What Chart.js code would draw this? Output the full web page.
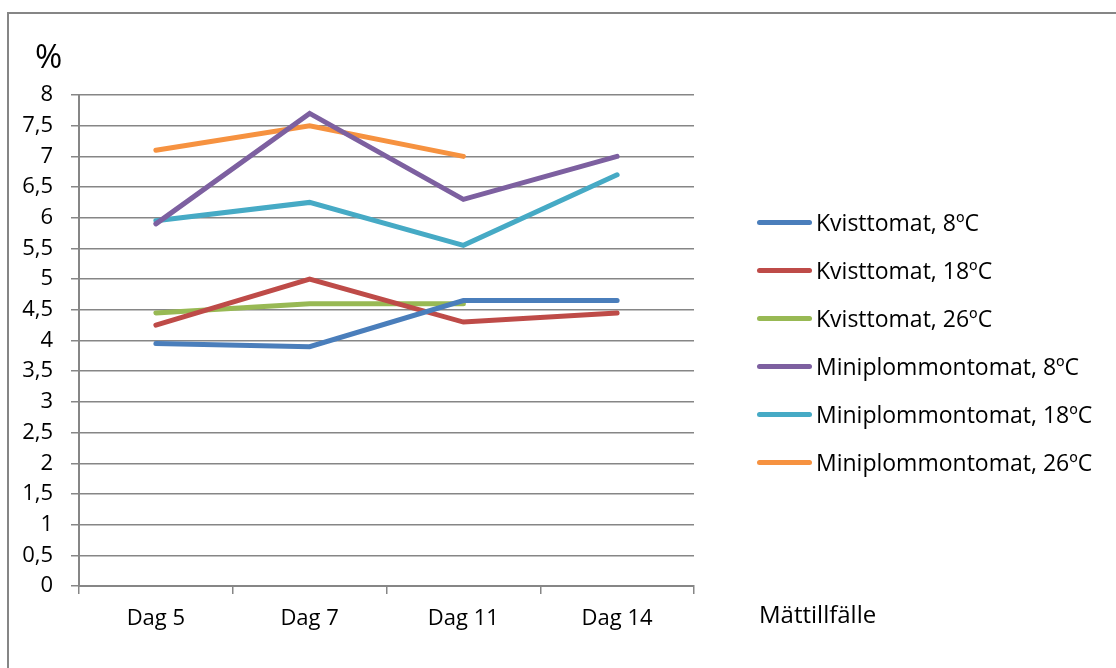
<!DOCTYPE html>
<html>
<head>
<meta charset="utf-8">
<script src="https://cdn.jsdelivr.net/npm/chart.js@4/dist/chart.umd.min.js"></script>
<style>
    body { margin: 0; background: #fff; font-family: 'Open Sans', sans-serif; }
    #wrap { position: relative; width: 1116px; height: 668px; overflow: hidden; }
    #frame { position: absolute; left: 7px; top: 12px; width: 1200px; height: 800px;
             border-left: 2px solid #868686; border-top: 2px solid #868686; }
    #chart { position: absolute; left: 0; top: 0; }
    #unit { position: absolute; left: 35px; top: 34px; font-size: 33px; line-height: 44px; color: #000; }
    #xtitle { position: absolute; left: 759px; top: 598px; font-size: 24px; line-height: 32px; color: #000; }
    #legend { position: absolute; left: 757px; top: 198px; }
    .item { height: 48px; display: flex; align-items: center; font-size: 23px; line-height: 30px; color: #000; white-space: nowrap; }
    .item span.sw { display: inline-block; width: 55px; height: 5px; border-radius: 3px; margin-right: 4px; }
</style>
</head>
<body>
<div id="wrap">
    <canvas id="chart" width="1116" height="668"></canvas>
    <div id="frame"></div>
    <div id="unit">%</div>
    <div id="xtitle">Mättillfälle</div>
    <div id="legend"></div>
</div>
<script>
// Mätdata
const dagar = ['Dag 5', 'Dag 7', 'Dag 11', 'Dag 14'];
const kvist8 = [3.95, 3.9, 4.65, 4.65];
const kvist18 = [4.25, 5.0, 4.3, 4.45];
const kvist26 = [4.45, 4.6, 4.6, null];
const mini8 = [5.9, 7.7, 6.3, 7.0];
const mini18 = [5.95, 6.25, 5.55, 6.7];
const mini26 = [7.1, 7.5, 7.0, null];
const serier = ['Kvisttomat, 8ºC', 'Kvisttomat, 18ºC', 'Kvisttomat, 26ºC',
                'Miniplommontomat, 8ºC', 'Miniplommontomat, 18ºC', 'Miniplommontomat, 26ºC'];
const farger = ['#4A7EBB', '#BE4B48', '#98B954', '#7D60A0', '#46AAC5', '#F69240'];

const values = [kvist8, kvist18, kvist26, mini8, mini18, mini26];
const datasets = values.map((v, i) => ({
    label: serier[i],
    data: v,
    borderColor: farger[i],
    backgroundColor: farger[i],
    borderWidth: 5,
    pointRadius: 0,
    tension: 0,
    borderCapStyle: 'round',
    borderJoinStyle: 'miter',
    spanGaps: false
}));

const ctx = document.getElementById('chart').getContext('2d');
new Chart(ctx, {
    type: 'line',
    data: { labels: dagar, datasets: datasets },
    options: {
        responsive: false,
        animation: false,
        layout: { padding: { top: 95, right: 422, bottom: 0, left: 0 } },
        plugins: { legend: { display: false }, tooltip: { enabled: false } },
        scales: {
            x: {
                offset: true,
                grid: { offset: true, drawOnChartArea: false, drawTicks: true, tickLength: 8, color: '#868686', lineWidth: 1.5 },
                border: { color: '#868686', width: 2 },
                ticks: { color: '#000', font: { family: 'Open Sans', size: 22 }, padding: 12 },
                afterFit: function(scale) { scale.height = 82; }
            },
            y: {
                min: 0,
                max: 8,
                ticks: {
                    stepSize: 0.5,
                    color: '#000',
                    font: { family: 'Open Sans', size: 22 },
                    padding: 18,
                    callback: function(value) { return String(value).replace('.', ','); }
                },
                grid: { color: '#868686', lineWidth: 1.5, tickLength: 8 },
                border: { color: '#868686', width: 2 },
                afterFit: function(scale) { scale.width = 79; }
            }
        }
    }
});

// Förklaring
const legend = document.getElementById('legend');
serier.forEach((namn, i) => {
    const item = document.createElement('div');
    item.className = 'item';
    item.innerHTML = `<span class="sw" style="background:${farger[i]}"></span>${namn}`;
    legend.appendChild(item);
});
</script>
</body>
</html>
